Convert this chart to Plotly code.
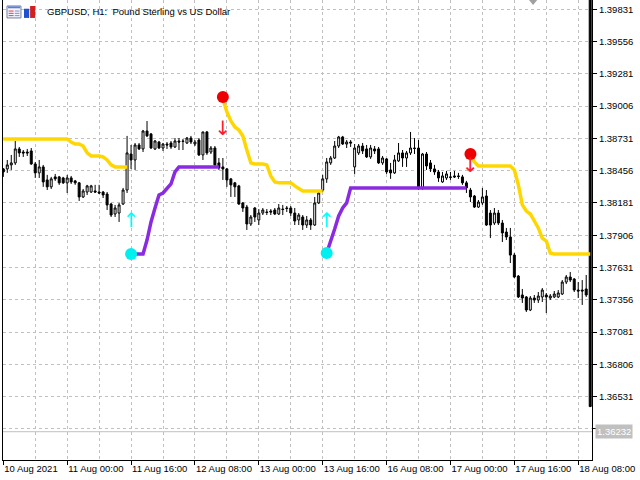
import pandas as pd
import plotly.graph_objects as go

# H1 bars of GBPUSD, weekend hours are not traded
times = pd.date_range('2021-08-10 08:00', '2021-08-18 11:00', freq='h')
times = times[times.dayofweek < 5]

opens = [
    1.38471, 1.38471, 1.38505, 1.38522, 1.38641, 1.38615, 1.38615, 1.38624,
    1.38513, 1.38437, 1.38488, 1.38377, 1.38318, 1.38403, 1.38403, 1.38394,
    1.38352, 1.38394, 1.38369, 1.38352, 1.38232, 1.38274, 1.38274, 1.38283,
    1.38274, 1.38274, 1.38257, 1.38172, 1.38087, 1.38095, 1.38172, 1.38291,
    1.38598, 1.38547, 1.38675, 1.38641, 1.38794, 1.38769, 1.38641, 1.38700,
    1.38649, 1.38683, 1.38692, 1.38658, 1.38709, 1.38709, 1.38692, 1.38734,
    1.38683, 1.38717, 1.38590, 1.38786, 1.38615, 1.38649, 1.38522, 1.38488,
    1.38471, 1.38386, 1.38352, 1.38326, 1.38181, 1.38146, 1.38002, 1.38138,
    1.38036, 1.38095, 1.38104, 1.38112, 1.38121, 1.38087, 1.38129, 1.38138,
    1.38138, 1.38095, 1.38036, 1.38061, 1.37993, 1.38036, 1.37993, 1.38181,
    1.38291, 1.38386, 1.38522, 1.38564, 1.38666, 1.38743, 1.38683, 1.38700,
    1.38488, 1.38607, 1.38666, 1.38641, 1.38573, 1.38641, 1.38641, 1.38522,
    1.38556, 1.38462, 1.38437, 1.38539, 1.38607, 1.38564, 1.38607, 1.38649,
    1.38649, 1.38309, 1.38598, 1.38522, 1.38471, 1.38445, 1.38360, 1.38394,
    1.38403, 1.38411, 1.38411, 1.38403, 1.38352, 1.38291, 1.38240, 1.38146,
    1.38181, 1.38240, 1.38095, 1.38010, 1.38095, 1.38010, 1.37933, 1.37891,
    1.37737, 1.37558, 1.37397, 1.37380, 1.37269, 1.37371, 1.37354, 1.37380,
    1.37397, 1.37371, 1.37380, 1.37380, 1.37405, 1.37507, 1.37550, 1.37533,
    1.37439, 1.37439, 1.37448, 1.39950,
]
highs = [
    1.38479, 1.38547, 1.38590, 1.38709, 1.38658, 1.38632, 1.38641, 1.38649,
    1.38530, 1.38547, 1.38505, 1.38420, 1.38403, 1.38428, 1.38411, 1.38403,
    1.38420, 1.38411, 1.38377, 1.38360, 1.38300, 1.38335, 1.38335, 1.38335,
    1.38335, 1.38283, 1.38274, 1.38181, 1.38164, 1.38181, 1.38309, 1.38752,
    1.38675, 1.38692, 1.38692, 1.38803, 1.38879, 1.38777, 1.38717, 1.38709,
    1.38692, 1.38700, 1.38709, 1.38734, 1.38734, 1.38726, 1.38743, 1.38752,
    1.38717, 1.38734, 1.38786, 1.38794, 1.38666, 1.38666, 1.38564, 1.38564,
    1.38479, 1.38394, 1.38360, 1.38335, 1.38189, 1.38164, 1.38078, 1.38146,
    1.38129, 1.38138, 1.38129, 1.38129, 1.38138, 1.38172, 1.38164, 1.38155,
    1.38155, 1.38138, 1.38095, 1.38078, 1.38070, 1.38053, 1.38232, 1.38291,
    1.38420, 1.38564, 1.38581, 1.38709, 1.38752, 1.38752, 1.38717, 1.38717,
    1.38683, 1.38683, 1.38692, 1.38675, 1.38675, 1.38666, 1.38658, 1.38581,
    1.38564, 1.38522, 1.38590, 1.38692, 1.38632, 1.38624, 1.38786, 1.38734,
    1.38717, 1.38607, 1.38615, 1.38547, 1.38505, 1.38462, 1.38445, 1.38454,
    1.38445, 1.38454, 1.38437, 1.38420, 1.38369, 1.38309, 1.38249, 1.38206,
    1.38309, 1.38291, 1.38121, 1.38138, 1.38121, 1.38036, 1.37968, 1.37968,
    1.37754, 1.37567, 1.37448, 1.37388, 1.37388, 1.37397, 1.37422, 1.37456,
    1.37414, 1.37405, 1.37431, 1.37439, 1.37524, 1.37567, 1.37593, 1.37541,
    1.37507, 1.37524, 1.37567, 1.39950,
]
lows = [
    1.38403, 1.38437, 1.38462, 1.38505, 1.38573, 1.38573, 1.38581, 1.38505,
    1.38394, 1.38394, 1.38318, 1.38291, 1.38300, 1.38369, 1.38335, 1.38343,
    1.38266, 1.38343, 1.38335, 1.38198, 1.38223, 1.38249, 1.38266, 1.38266,
    1.38257, 1.38223, 1.38121, 1.38061, 1.38061, 1.38019, 1.38164, 1.38266,
    1.38471, 1.38462, 1.38632, 1.38615, 1.38743, 1.38641, 1.38632, 1.38641,
    1.38624, 1.38641, 1.38641, 1.38649, 1.38632, 1.38632, 1.38683, 1.38683,
    1.38666, 1.38581, 1.38547, 1.38590, 1.38598, 1.38496, 1.38462, 1.38377,
    1.38318, 1.38232, 1.38232, 1.38164, 1.38104, 1.37951, 1.37985, 1.38019,
    1.37993, 1.38078, 1.38078, 1.38078, 1.38078, 1.38078, 1.38078, 1.38104,
    1.38070, 1.37993, 1.37993, 1.37951, 1.37968, 1.37951, 1.37985, 1.38172,
    1.38274, 1.38352, 1.38505, 1.38556, 1.38649, 1.38675, 1.38649, 1.38658,
    1.38428, 1.38590, 1.38598, 1.38564, 1.38556, 1.38598, 1.38513, 1.38505,
    1.38428, 1.38386, 1.38428, 1.38530, 1.38488, 1.38488, 1.38590, 1.38598,
    1.38291, 1.38291, 1.38462, 1.38445, 1.38420, 1.38360, 1.38352, 1.38377,
    1.38377, 1.38394, 1.38386, 1.38335, 1.38266, 1.38189, 1.38138, 1.38138,
    1.38164, 1.37985, 1.37882, 1.37993, 1.37993, 1.37848, 1.37865, 1.37669,
    1.37541, 1.37371, 1.37329, 1.37252, 1.37260, 1.37329, 1.37329, 1.37337,
    1.37243, 1.37354, 1.37371, 1.37371, 1.37397, 1.37490, 1.37507, 1.37422,
    1.37371, 1.37312, 1.37380, 1.36446,
]
closes = [
    1.38445, 1.38505, 1.38522, 1.38641, 1.38607, 1.38607, 1.38607, 1.38513,
    1.38437, 1.38488, 1.38360, 1.38318, 1.38386, 1.38386, 1.38352, 1.38352,
    1.38394, 1.38360, 1.38352, 1.38232, 1.38283, 1.38326, 1.38326, 1.38274,
    1.38266, 1.38249, 1.38164, 1.38078, 1.38138, 1.38164, 1.38291, 1.38607,
    1.38547, 1.38675, 1.38641, 1.38794, 1.38752, 1.38649, 1.38709, 1.38649,
    1.38683, 1.38675, 1.38658, 1.38709, 1.38700, 1.38705, 1.38734, 1.38700,
    1.38700, 1.38590, 1.38786, 1.38607, 1.38649, 1.38505, 1.38479, 1.38471,
    1.38377, 1.38335, 1.38318, 1.38172, 1.38138, 1.38002, 1.38061, 1.38061,
    1.38095, 1.38121, 1.38100, 1.38104, 1.38087, 1.38138, 1.38125, 1.38134,
    1.38095, 1.38027, 1.38078, 1.37993, 1.38036, 1.37993, 1.38181, 1.38266,
    1.38386, 1.38530, 1.38564, 1.38666, 1.38743, 1.38683, 1.38700, 1.38692,
    1.38649, 1.38666, 1.38624, 1.38573, 1.38649, 1.38624, 1.38522, 1.38564,
    1.38445, 1.38437, 1.38547, 1.38607, 1.38564, 1.38607, 1.38649, 1.38645,
    1.38309, 1.38598, 1.38496, 1.38471, 1.38445, 1.38394, 1.38411, 1.38428,
    1.38399, 1.38403, 1.38407, 1.38352, 1.38309, 1.38232, 1.38146, 1.38189,
    1.38232, 1.37993, 1.37993, 1.38095, 1.38010, 1.37925, 1.37891, 1.37737,
    1.37550, 1.37380, 1.37371, 1.37269, 1.37371, 1.37354, 1.37388, 1.37439,
    1.37380, 1.37388, 1.37405, 1.37414, 1.37507, 1.37550, 1.37524, 1.37439,
    1.37431, 1.37431, 1.37397, 1.36446,
]

# trailing stop of the indicator: yellow while short, purple while long
stop_short = [
    1.38726, 1.38726, 1.38726, 1.38726, 1.38726, 1.38726, 1.38726, 1.38726,
    1.38726, 1.38726, 1.38726, 1.38726, 1.38726, 1.38726, 1.38726, 1.38726,
    1.38726, 1.38700, 1.38683, 1.38683, 1.38666, 1.38607, 1.38581, 1.38581,
    1.38581, 1.38573, 1.38547, 1.38505, 1.38488, 1.38488, 1.38488, 1.38488,
    None, None, None, None, None, None, None, None,
    None, None, None, None, None, None, None, None,
    None, None, None, None, None, None, None, 1.39066,
    1.38956, 1.38879, 1.38828, 1.38803, 1.38752, 1.38632, 1.38522, 1.38513,
    1.38513, 1.38513, 1.38505, 1.38411, 1.38360, 1.38352, 1.38352, 1.38352,
    1.38352, 1.38326, 1.38300, 1.38283, 1.38283, 1.38283, 1.38283, 1.38283,
    1.38283, None, None, None, None, None, None, None,
    None, None, None, None, None, None, None, None,
    None, None, None, None, None, None, None, None,
    None, None, None, None, None, None, None, None,
    None, None, None, None, None, 1.38590, 1.38530, 1.38496,
    1.38496, 1.38496, 1.38496, 1.38496, 1.38496, 1.38496, 1.38496, 1.38496,
    1.38462, 1.38335, 1.38164, 1.38112, 1.38087, 1.38027, 1.37968, 1.37882,
    1.37857, 1.37754, 1.37746, 1.37746, 1.37746, 1.37746, 1.37746, 1.37746,
    1.37746, 1.37746, 1.37746, 1.37746,
]
stop_long = [
    None, None, None, None, None, None, None, None,
    None, None, None, None, None, None, None, None,
    None, None, None, None, None, None, None, None,
    None, None, None, None, None, None, None, None,
    1.37746, 1.37746, 1.37746, 1.37746, 1.37865, 1.38019, 1.38138, 1.38249,
    1.38266, 1.38300, 1.38343, 1.38445, 1.38488, 1.38488, 1.38488, 1.38488,
    1.38488, 1.38488, 1.38488, 1.38488, 1.38488, 1.38488, 1.38488, None,
    None, None, None, None, None, None, None, None,
    None, None, None, None, None, None, None, None,
    None, None, None, None, None, None, None, None,
    None, 1.37754, 1.37848, 1.37959, 1.38070, 1.38138, 1.38181, 1.38309,
    1.38309, 1.38309, 1.38309, 1.38309, 1.38309, 1.38309, 1.38309, 1.38309,
    1.38309, 1.38309, 1.38309, 1.38309, 1.38309, 1.38309, 1.38309, 1.38309,
    1.38309, 1.38309, 1.38309, 1.38309, 1.38309, 1.38309, 1.38309, 1.38309,
    1.38309, 1.38309, 1.38309, 1.38309, 1.38309, None, None, None,
    None, None, None, None, None, None, None, None,
    None, None, None, None, None, None, None, None,
    None, None, None, None, None, None, None, None,
    None, None, None, None,
]

# signals
buy_times = ['2021-08-11 16:00', '2021-08-13 17:00']
buy_dots = [1.37746, 1.37754]
buy_arrows = [1.38019, 1.38019]
sell_times = ['2021-08-12 15:00', '2021-08-17 05:00']
sell_dots = [1.39083, 1.38598]
sell_arrows = [1.38803, 1.38488]

price_ticks = [1.39831, 1.39556, 1.39281, 1.39006, 1.38731, 1.38456, 1.38181,
               1.37906, 1.37631, 1.37356, 1.37081, 1.36806, 1.36531, 1.36256]
bid = 1.36232

bars = list(range(len(times)))
pos = {t: i for i, t in enumerate(times)}
buy_x = [pos[pd.Timestamp(t)] for t in buy_times]
sell_x = [pos[pd.Timestamp(t)] for t in sell_times]

label_bars = bars[::16]
label_text = [times[0].strftime('%d %b %Y')] + \
    [times[i].strftime('%d %b %H:%M') for i in label_bars[1:]]

# last price level sits under the bid label
price_text = [f'{v:.5f}' for v in price_ticks[:-1]] + ['']

FONT = 'Liberation Sans, Arial, sans-serif'
GRID = '#c0c0c0'

fig = go.Figure()

fig.add_trace(go.Candlestick(
    x=bars, open=opens, high=highs, low=lows, close=closes,
    increasing=dict(line=dict(color='black', width=1), fillcolor='white'),
    decreasing=dict(line=dict(color='black', width=1), fillcolor='black'),
    hoverinfo='skip',
))

fig.add_trace(go.Scatter(x=bars, y=stop_short, mode='lines',
                         line=dict(color='#ffd700', width=3.5)))
fig.add_trace(go.Scatter(x=bars, y=stop_long, mode='lines',
                         line=dict(color='#8a2be2', width=3.5)))

fig.add_trace(go.Scatter(x=buy_x, y=buy_dots, mode='markers',
                         marker=dict(color='#00f0f0', size=12)))
fig.add_trace(go.Scatter(x=sell_x, y=sell_dots, mode='markers',
                         marker=dict(color='#ee0000', size=12)))
fig.add_trace(go.Scatter(x=buy_x, y=buy_arrows, mode='text', text=['↑'] * 2,
                         textfont=dict(color='#00ffff', size=20, family='DejaVu Sans')))
fig.add_trace(go.Scatter(x=sell_x, y=sell_arrows, mode='text', text=['↓'] * 2,
                         textfont=dict(color='#ff1a2a', size=20, family='DejaVu Sans')))

# bid line
fig.add_hline(y=bid, line=dict(color=GRID, width=1))
fig.add_annotation(x=1, xref='paper', y=bid, yref='y', text=f'{bid:.5f}',
                   xanchor='left', xshift=3, showarrow=False, bgcolor=GRID,
                   borderpad=1, font=dict(color='white', size=9.5, family=FONT))

# title + the two little window icons
fig.add_annotation(x=0.0713, xref='paper', y=0.974, yref='paper',
                   text='GBPUSD, H1:\u00a0 Pound Sterling vs US Dollar',
                   xanchor='left', yanchor='middle', showarrow=False,
                   font=dict(size=9.5, family=FONT, color='black'))
fig.add_shape(type='rect', xref='paper', yref='paper', x0=0.0068, x1=0.0305,
              y0=0.961, y1=0.987, line=dict(color='#7080a0', width=1),
              fillcolor='#f4f4ff')
fig.add_shape(type='rect', xref='paper', yref='paper', x0=0.0085, x1=0.029,
              y0=0.982, y1=0.986, line=dict(width=0), fillcolor='#5b7fd0')
for yy in (0.976, 0.971, 0.966):
    fig.add_shape(type='line', xref='paper', yref='paper', x0=0.0095, x1=0.018,
                  y0=yy, y1=yy, line=dict(color='#e04040', width=1))
    fig.add_shape(type='line', xref='paper', yref='paper', x0=0.020, x1=0.028,
                  y0=yy, y1=yy, line=dict(color='#8090c0', width=1))
fig.add_shape(type='rect', xref='paper', yref='paper', x0=0.0357, x1=0.0445,
              y0=0.961, y1=0.981, line=dict(width=0), fillcolor='#2050d0')
fig.add_shape(type='rect', xref='paper', yref='paper', x0=0.046, x1=0.0547,
              y0=0.961, y1=0.987, line=dict(width=0), fillcolor='#d02020')

# chart shift marker
fig.add_shape(type='path', xref='paper', yref='paper',
              path='M 0.893 1 L 0.907 1 L 0.900 0.989 Z',
              line=dict(width=0), fillcolor='#a0a0a0')

fig.update_layout(
    width=640, height=480,
    margin=dict(l=3, r=48, t=0, b=20, autoexpand=False),
    paper_bgcolor='white', plot_bgcolor='white',
    showlegend=False,
    font=dict(family=FONT, size=9.5, color='black'),
    xaxis=dict(
        range=[-0.075, 147.45], automargin=False,
        tickvals=label_bars, ticktext=label_text, tickangle=0,
        ticks='outside', ticklen=4, tickcolor='black',
        ticklabelposition='outside right',
        showgrid=True, gridcolor=GRID, griddash='3px,3px', gridwidth=1,
        minor=dict(dtick=8, tick0=0, showgrid=True, gridcolor=GRID,
                   griddash='3px,3px', ticks=''),
        showline=True, linecolor='black', linewidth=1,
        zeroline=False, rangeslider=dict(visible=False),
    ),
    yaxis=dict(
        side='right', range=[1.35991, 1.39910], automargin=False,
        tickvals=price_ticks, ticktext=price_text,
        ticks='outside', ticklen=4, tickcolor='black',
        showgrid=True, gridcolor=GRID, griddash='3px,3px', gridwidth=1,
        showline=True, mirror=True, linecolor='black', linewidth=1,
        zeroline=False,
    ),
)

# the page has the browser's default body margin; drop it so the chart fills the window
fig.write_html('out.html', config={'displayModeBar': False},
               post_script="document.body.style.margin='0';")
